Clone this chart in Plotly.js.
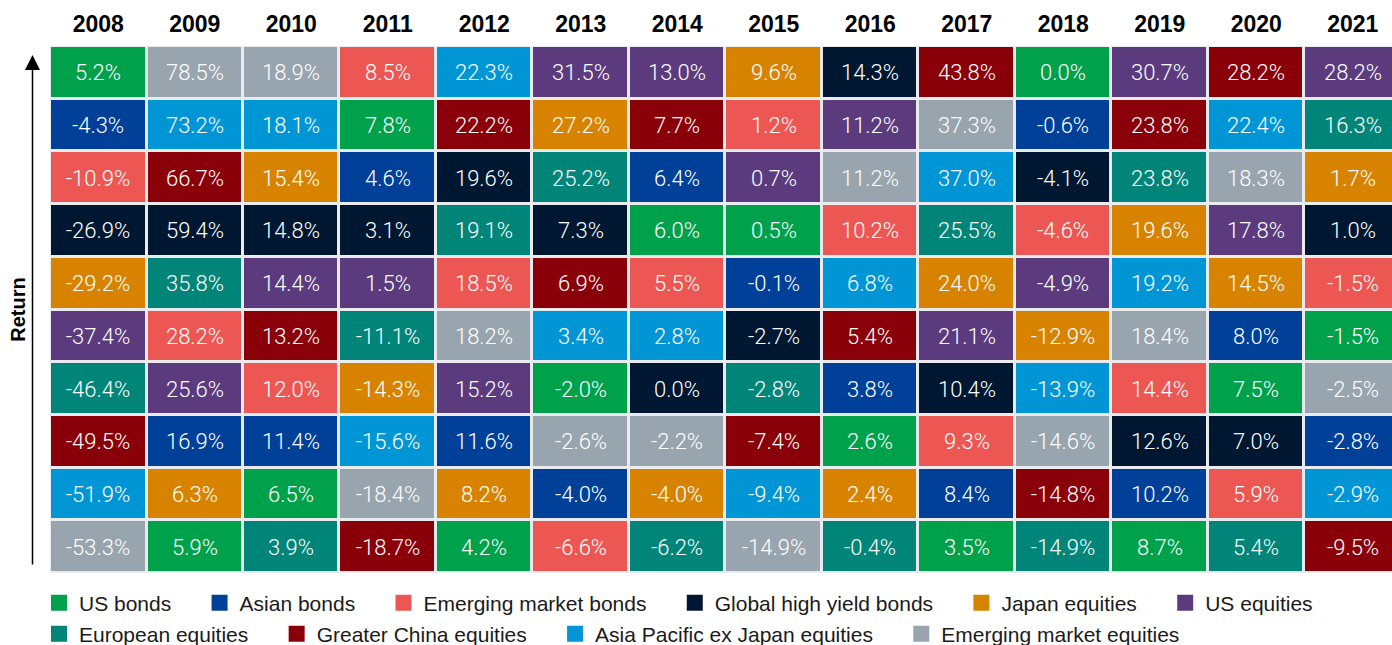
<!DOCTYPE html>
<html>
<head>
<meta charset="utf-8">
<script src="https://cdn.plot.ly/plotly-3.0.1.min.js"></script>
<style>
  html, body { margin: 0; padding: 0; background: #ffffff; }
  #chart { width: 1392px; height: 645px; }
</style>
</head>
<body>
<div id="chart"></div>
<script>
// ---------- DATA ----------
const years = ['2008','2009','2010','2011','2012','2013','2014','2015','2016','2017','2018','2019','2020','2021'];

const assetCodes   = ['USB','AB','EMB','GHY','JE','USE','EUE','GCE','APJ','EME'];
const assetClasses = ['US bonds','Asian bonds','Emerging market bonds','Global high yield bonds','Japan equities',
                      'US equities','European equities','Greater China equities','Asia Pacific ex Japan equities','Emerging market equities'];
const assetColors  = ['#00a14b','#004098','#ec5753','#001731','#d78300',
                      '#5b3b7d','#008578','#8a0009','#0096d6','#98a4ae'];

// Asset classes ranked best to worst for each year
const ranked2008 = ['USB','AB','EMB','GHY','JE','USE','EUE','GCE','APJ','EME'];
const ranked2009 = ['EME','APJ','GCE','GHY','EUE','EMB','USE','AB','JE','USB'];
const ranked2010 = ['EME','APJ','JE','GHY','USE','GCE','EMB','AB','USB','EUE'];
const ranked2011 = ['EMB','USB','AB','GHY','USE','EUE','JE','APJ','EME','GCE'];
const ranked2012 = ['APJ','GCE','GHY','EUE','EMB','EME','USE','AB','JE','USB'];
const ranked2013 = ['USE','JE','EUE','GHY','GCE','APJ','USB','EME','AB','EMB'];
const ranked2014 = ['USE','GCE','AB','USB','EMB','APJ','GHY','EME','JE','EUE'];
const ranked2015 = ['JE','EMB','USE','USB','AB','GHY','EUE','GCE','APJ','EME'];
const ranked2016 = ['GHY','USE','EME','EMB','APJ','GCE','AB','USB','JE','EUE'];
const ranked2017 = ['GCE','EME','APJ','EUE','JE','USE','GHY','EMB','AB','USB'];
const ranked2018 = ['USB','AB','GHY','EMB','USE','JE','APJ','EME','GCE','EUE'];
const ranked2019 = ['USE','GCE','EUE','JE','APJ','EME','EMB','GHY','AB','USB'];
const ranked2020 = ['GCE','APJ','EME','USE','JE','AB','USB','GHY','EMB','EUE'];
const ranked2021 = ['USE','EUE','JE','GHY','EMB','USB','EME','AB','APJ','GCE'];

// Returns (%) in the same ranked order
const returns2008 = [5.2, -4.3, -10.9, -26.9, -29.2, -37.4, -46.4, -49.5, -51.9, -53.3];
const returns2009 = [78.5, 73.2, 66.7, 59.4, 35.8, 28.2, 25.6, 16.9, 6.3, 5.9];
const returns2010 = [18.9, 18.1, 15.4, 14.8, 14.4, 13.2, 12.0, 11.4, 6.5, 3.9];
const returns2011 = [8.5, 7.8, 4.6, 3.1, 1.5, -11.1, -14.3, -15.6, -18.4, -18.7];
const returns2012 = [22.3, 22.2, 19.6, 19.1, 18.5, 18.2, 15.2, 11.6, 8.2, 4.2];
const returns2013 = [31.5, 27.2, 25.2, 7.3, 6.9, 3.4, -2.0, -2.6, -4.0, -6.6];
const returns2014 = [13.0, 7.7, 6.4, 6.0, 5.5, 2.8, 0.0, -2.2, -4.0, -6.2];
const returns2015 = [9.6, 1.2, 0.7, 0.5, -0.1, -2.7, -2.8, -7.4, -9.4, -14.9];
const returns2016 = [14.3, 11.2, 11.2, 10.2, 6.8, 5.4, 3.8, 2.6, 2.4, -0.4];
const returns2017 = [43.8, 37.3, 37.0, 25.5, 24.0, 21.1, 10.4, 9.3, 8.4, 3.5];
const returns2018 = [0.0, -0.6, -4.1, -4.6, -4.9, -12.9, -13.9, -14.6, -14.8, -14.9];
const returns2019 = [30.7, 23.8, 23.8, 19.6, 19.2, 18.4, 14.4, 12.6, 10.2, 8.7];
const returns2020 = [28.2, 22.4, 18.3, 17.8, 14.5, 8.0, 7.5, 7.0, 5.9, 5.4];
const returns2021 = [28.2, 16.3, 1.7, 1.0, -1.5, -1.5, -2.5, -2.8, -2.9, -9.5];

const rankedByYear  = [ranked2008, ranked2009, ranked2010, ranked2011, ranked2012, ranked2013, ranked2014,
                       ranked2015, ranked2016, ranked2017, ranked2018, ranked2019, ranked2020, ranked2021];
const returnsByYear = [returns2008, returns2009, returns2010, returns2011, returns2012, returns2013, returns2014,
                       returns2015, returns2016, returns2017, returns2018, returns2019, returns2020, returns2021];

// ---------- BUILD ----------
const nRows = 10;
const rows = Array.from({length: nRows}, (_, r) => r);
const z = [], text = [], names = [];
for (let r = 0; r < nRows; r++) {
  z.push(years.map((y, c) => assetCodes.indexOf(rankedByYear[c][r])));
  text.push(years.map((y, c) => returnsByYear[c][r].toFixed(1) + '%'));
  names.push(years.map((y, c) => assetClasses[assetCodes.indexOf(rankedByYear[c][r])]));
}

const n = assetColors.length;
const colorscale = [];
assetColors.forEach((col, i) => {
  colorscale.push([i / n, col]);
  colorscale.push([(i + 1) / n, col]);
});

const heat = {
  type: 'heatmap',
  x: years,
  y: rows,
  z: z,
  text: text,
  customdata: names,
  texttemplate: '%{text}',
  textfont: {family: 'Roboto, "Liberation Sans", sans-serif', size: 22, color: '#ffffff', weight: 300},
  hovertemplate: '%{x}<br>%{customdata}: %{text}<extra></extra>',
  colorscale: colorscale,
  zmin: -0.5,
  zmax: n - 0.5,
  showscale: false,
  xgap: 3,
  ygap: 3,
  showlegend: false
};

const nbsp = '\u00A0\u00A0\u00A0\u00A0';
const legendTraces = assetClasses.map((name, i) => ({
  type: 'scatter',
  mode: 'markers',
  x: [null],
  y: [null],
  name: name + nbsp,
  marker: {symbol: 'square', size: 16, color: assetColors[i]},
  showlegend: true,
  legend: i < 6 ? 'legend' : 'legend2',
  hoverinfo: 'skip'
}));

const legendFont = {family: '"Liberation Sans", Arial, sans-serif', size: 21, color: '#1a1a1a'};

const layout = {
  width: 1392,
  height: 645,
  margin: {l: 50, r: 0, t: 46, b: 72},
  paper_bgcolor: '#ffffff',
  plot_bgcolor: '#e9ebee',
  xaxis: {
    type: 'category',
    side: 'top',
    range: [-0.5, 13.407],
    showgrid: false,
    zeroline: false,
    showline: false,
    ticks: 'outside',
    ticklen: 4,
    tickcolor: 'rgba(0,0,0,0)',
    tickfont: {family: '"Liberation Sans", Arial, sans-serif', size: 23, color: '#000000', weight: 'bold'},
    fixedrange: true
  },
  yaxis: {
    range: [nRows - 0.5, -0.5],
    showticklabels: false,
    showgrid: false,
    zeroline: false,
    showline: false,
    ticks: '',
    title: {text: 'Return', standoff: 18, font: {family: '"Liberation Sans", Arial, sans-serif', size: 20, color: '#000000', weight: 'bold'}},
    fixedrange: true
  },
  showlegend: true,
  legend: {
    orientation: 'h',
    xref: 'container', yref: 'container',
    x: 39 / 1392, xanchor: 'left',
    y: 1 - 603 / 645, yanchor: 'middle',
    font: legendFont,
    bgcolor: 'rgba(0,0,0,0)',
    itemclick: false, itemdoubleclick: false
  },
  legend2: {
    orientation: 'h',
    xref: 'container', yref: 'container',
    x: 39 / 1392, xanchor: 'left',
    y: 1 - 634 / 645, yanchor: 'middle',
    font: legendFont,
    bgcolor: 'rgba(0,0,0,0)',
    itemclick: false, itemdoubleclick: false
  },
  annotations: [{
    xref: 'paper', yref: 'paper',
    x: (32.5 - 50) / 1342, y: (573 - 55) / 527,
    axref: 'pixel', ayref: 'pixel',
    ax: 0, ay: 511,
    text: '',
    showarrow: true,
    arrowhead: 2,
    arrowsize: 2,
    arrowwidth: 1.5,
    arrowcolor: '#000000'
  }]
};

Plotly.newPlot('chart', [heat].concat(legendTraces), layout, {displayModeBar: false, responsive: false});
</script>
</body>
</html>
